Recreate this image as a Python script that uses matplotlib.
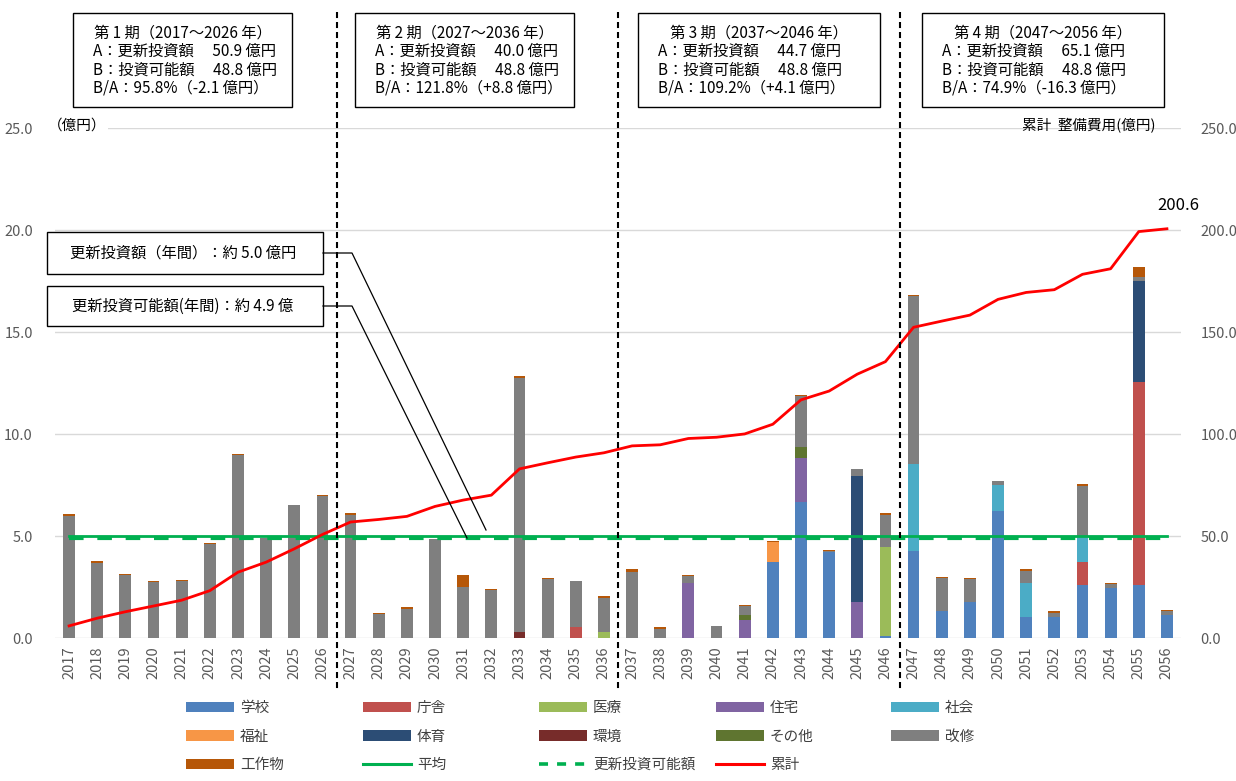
import matplotlib
matplotlib.use('Agg')
import matplotlib.pyplot as plt
from matplotlib.patches import Rectangle, Patch
from matplotlib.lines import Line2D
from matplotlib.transforms import blended_transform_factory
import numpy as np

plt.rcParams['font.family'] = ['Noto Sans CJK JP', 'DejaVu Sans']

W, H = 1236, 781

# ---- data (億円) ----
years = list(range(2017, 2057))

gakko = [0] * 25 + [3.75, 6.68, 4.22, 0, 0.12,
                    4.30, 1.36, 1.76, 6.24, 1.02, 1.02, 2.62, 2.46, 2.62, 1.12]
chosha = [0] * 18 + [0.55, 0] + [0] * 10 + [0, 0, 0, 0, 0, 0, 1.10, 0, 9.95, 0]
iryo = [0] * 19 + [0.30] + [0] * 9 + [4.35] + [0] * 10
jutaku = [0] * 17 + [0.02, 0, 0] + [0, 0, 2.70, 0, 0.88, 0, 2.14, 0, 1.77, 0] + [0] * 10
shakai = [0] * 20 + [0.03, 0, 0, 0.03, 0, 0, 0, 0, 0, 0,
                     4.23, 0, 0, 1.26, 1.70, 0, 1.22, 0, 0, 0]
fukushi = [0] * 25 + [0.95] + [0] * 14
taiiku = [0] * 28 + [6.20, 0] + [0] * 8 + [4.92, 0]
kankyo = [0] * 16 + [0.30] + [0] * 23
sonota = [0] * 24 + [0.28, 0, 0.53, 0, 0, 0] + [0] * 10
kaishu = [6.00, 3.70, 3.10, 2.78, 2.80, 4.60, 8.96, 4.93, 6.52, 6.97,
          6.02, 1.20, 1.45, 4.88, 2.50, 2.35, 12.45, 2.90, 2.27, 1.65,
          3.22, 0.48, 0.34, 0.58, 0.40, 0, 2.52, 0.05, 0.30, 1.56,
          8.25, 1.60, 1.13, 0.22, 0.60, 0.22, 2.50, 0.22, 0.22, 0.20]
kosakubutsu = [0.08, 0.07, 0.06, 0.03, 0.04, 0.08, 0.08, 0, 0, 0.05,
               0.10, 0.05, 0.06, 0, 0.60, 0.07, 0.12, 0.05, 0, 0.14,
               0.14, 0.05, 0.05, 0, 0.06, 0.05, 0.07, 0.05, 0, 0.10,
               0.06, 0.06, 0.05, 0, 0.07, 0.10, 0.10, 0.04, 0.50, 0.06]

heikin = 5.0        # 更新投資額（年間）
kanou = 4.9         # 更新投資可能額（年間）

cats = ['学校', '庁舎', '医療', '住宅', '社会', '福祉', '体育', '環境', 'その他', '改修', '工作物']
series = [gakko, chosha, iryo, jutaku, shakai, fukushi, taiiku, kankyo, sonota, kaishu, kosakubutsu]
colors = ['#4F81BD', '#C0504D', '#9BBB59', '#8064A2', '#4BACC6', '#F79646',
          '#2C4D75', '#772C2A', '#5F7530', '#7F7F7F', '#B65708']

periods = [
    ('第 1 期（2017～2026 年）', '50.9', '95.8%（-2.1 億円）'),
    ('第 2 期（2027～2036 年）', '40.0', '121.8%（+8.8 億円）'),
    ('第 3 期（2037～2046 年）', '44.7', '109.2%（+4.1 億円）'),
    ('第 4 期（2047～2056 年）', '65.1', '74.9%（-16.3 億円）'),
]

# ---- figure ----
fig = plt.figure(figsize=(W / 100, H / 100), dpi=100)
ax = fig.add_axes([55 / W, 1 - 638.3 / H, (1181 - 55) / W, (638.3 - 128) / H])

x = np.array(years)
bottom = np.zeros(len(years))
for name, vals, c in zip(cats, series, colors):
    v = np.array(vals, dtype=float)
    ax.bar(x, v, 0.42, bottom=bottom, color=c, linewidth=0, zorder=2)
    bottom += v

ax.plot(x, np.full(len(x), heikin), color='#00B050', lw=2.0, zorder=4)
ax.plot(x, np.full(len(x), kanou), color='#00B050', lw=3.0,
        linestyle=(0, (3.5, 3.3)), zorder=4)

ax.set_xlim(2016.5, 2056.5)
ax.set_ylim(0, 25)
ax.set_yticks(np.arange(0, 25.1, 5))
ax.set_yticklabels([f'{v:.1f}' for v in np.arange(0, 25.1, 5)])
ax.set_xticks(x)
ax.set_xticklabels([str(y) for y in years], rotation=90)
ax.yaxis.grid(True, color='#D9D9D9', lw=1)
ax.set_axisbelow(True)
for s in ax.spines.values():
    s.set_visible(False)
ax.tick_params(axis='both', length=0, labelsize=10.5, colors='#595959')
ax.tick_params(axis='y', pad=16)
ax.tick_params(axis='x', pad=6)

ax2 = ax.twinx()
cum = np.cumsum(bottom)
ax2.plot(x, cum, color='#FF0000', lw=2.0, zorder=5)
ax2.set_ylim(0, 250)
ax2.set_yticks(np.arange(0, 251, 50))
ax2.set_yticklabels([f'{v:.1f}' for v in np.arange(0, 251, 50)])
for s in ax2.spines.values():
    s.set_visible(False)
ax2.tick_params(axis='y', length=0, labelsize=10.5, colors='#595959', pad=14)
ax2.text(x[-1] + 0.4, cum[-1] + 7, f'{cum[-1]:.1f}', ha='center', va='bottom',
         fontsize=12, color='black')


def px(xp, yp):
    return xp / W, 1 - yp / H


# axis captions
fig.text(*px(48, 126), '（億円）', ha='left', va='center', fontsize=10.5,
         bbox=dict(facecolor='white', edgecolor='none', pad=1))
fig.text(*px(1155, 126), '累計  整備費用(億円)', ha='right', va='center', fontsize=10.5)

# period separators
trans = blended_transform_factory(ax.transData, fig.transFigure)
for xv in [2026.5, 2036.5, 2046.5]:
    fig.add_artist(Line2D([xv, xv], [1 - 12 / H, 1 - 690 / H], transform=trans,
                          color='black', lw=1.5, linestyle=(0, (2.9, 1.9)), zorder=3))

# period boxes
boxes = [(73, 292), (355, 574), (638, 880), (922, 1164)]
for (x0, x1), (title, a, ratio) in zip(boxes, periods):
    fig.add_artist(Rectangle(px(x0, 107), (x1 - x0) / W, 94 / H, transform=fig.transFigure,
                             facecolor='white', edgecolor='black', lw=1.0))
    fig.text(*px((x0 + x1) / 2, 33), title, ha='center', va='center', fontsize=11)
    fig.text(*px(x0 + 20, 51), f'A：更新投資額　 {a} 億円', ha='left', va='center', fontsize=11)
    fig.text(*px(x0 + 20, 70), 'B：投資可能額　 48.8 億円', ha='left', va='center', fontsize=11)
    fig.text(*px(x0 + 20, 88), f'B/A：{ratio}', ha='left', va='center', fontsize=11)

# callouts
callouts = [
    (232, 274, '更新投資額（年間）：約 5.0 億円', (486, 530)),
    (286, 326, '更新投資可能額(年間)：約 4.9 億', (467, 538)),
]
for y0, y1, label, end in callouts:
    fig.add_artist(Rectangle(px(47, y1), (323 - 47) / W, (y1 - y0) / H, transform=fig.transFigure,
                             facecolor='white', edgecolor='black', lw=1.0, zorder=6))
    fig.text(*px(183, (y0 + y1) / 2), label, ha='center', va='center', fontsize=11, zorder=7)
    ym = (y0 + y1) / 2
    xs = [323 / W, 352 / W, end[0] / W]
    ys = [1 - ym / H, 1 - ym / H, 1 - end[1] / H]
    fig.add_artist(Line2D(xs, ys, transform=fig.transFigure, color='black', lw=0.9, zorder=6))

# legend: five columns, filled row by row
bar_handles = [Patch(facecolor=c, edgecolor='none') for c in colors]
line_handles = [Line2D([], [], color='#00B050', lw=2.2),
                Line2D([], [], color='#00B050', lw=2.6, linestyle=(0, (2.5, 2.5))),
                Line2D([], [], color='#FF0000', lw=2.2)]
handles = bar_handles + line_handles
labels = cats + ['平均', '更新投資可能額', '累計']
col_x = [188, 365, 541, 718, 893]
for ci, cx in enumerate(col_x):
    idx = list(range(ci, len(handles), 5))
    fig.legend([handles[i] for i in idx], [labels[i] for i in idx],
               loc='upper left', bbox_to_anchor=px(cx - 2, 701), frameon=False,
               borderpad=0, borderaxespad=0, handlelength=3.3, handleheight=0.7,
               handletextpad=0.4, labelspacing=1.0, fontsize=10.5, labelcolor='#404040')

fig.savefig('out.png', dpi=100, facecolor='white')
